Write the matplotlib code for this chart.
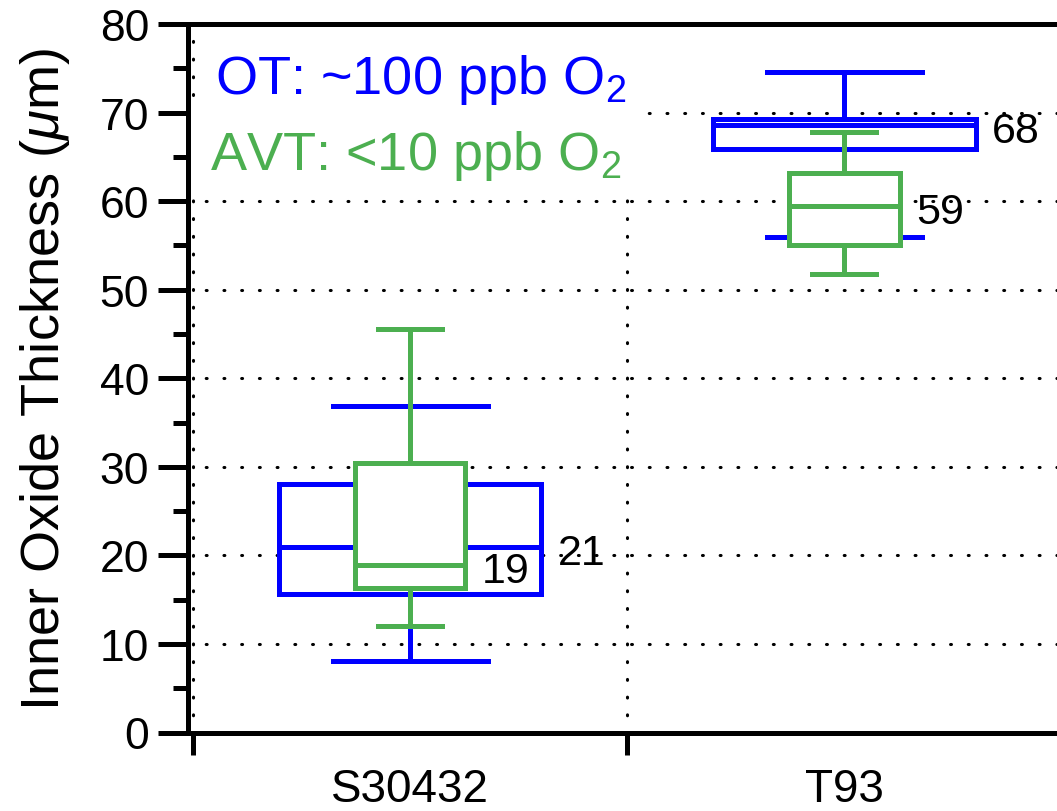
import matplotlib
matplotlib.use("Agg")
import matplotlib.pyplot as plt
from matplotlib.patches import Rectangle

plt.rcParams["font.family"] = ["Liberation Sans", "DejaVu Sans"]
plt.rcParams["mathtext.fontset"] = "custom"
plt.rcParams["mathtext.rm"] = "Liberation Sans"
plt.rcParams["mathtext.it"] = "Liberation Sans:italic"

# data (inner oxide thickness, um)
categories = ["S30432", "T93"]
positions = [0, 1]

ot_whislo = [8.1, 56.0]
ot_q1 = [15.6, 65.9]
ot_med = [20.9, 68.6]
ot_q3 = [28.1, 69.3]
ot_whishi = [36.9, 74.6]
ot_labels = ["21", "68"]

avt_whislo = [12.0, 51.8]
avt_q1 = [16.3, 55.1]
avt_med = [18.9, 59.4]
avt_q3 = [30.4, 63.2]
avt_whishi = [45.6, 67.8]
avt_labels = ["19", "59"]

BLUE = "#0000FF"
GREEN = "#4CAF50"
LW = 3.6


def make_stats(lo, q1, med, q3, hi):
    return [dict(whislo=a, q1=b, med=c, q3=d, whishi=e, fliers=[])
            for a, b, c, d, e in zip(lo, q1, med, q3, hi)]


def draw_boxes(ax, stats, color, width, capwidth, z):
    props = dict(color=color, linewidth=LW)
    ax.bxp(stats, positions=positions, widths=width, capwidths=capwidth,
           patch_artist=True, showfliers=False, manage_ticks=False,
           boxprops=dict(facecolor="white", edgecolor=color, linewidth=LW,
                         joinstyle="miter"),
           whiskerprops=props, capprops=props, medianprops=props, zorder=z)


fig = plt.figure(figsize=(10.57, 8.12), dpi=100)
ax = fig.add_axes([187.5 / 1057, 78.5 / 812, 869.5 / 1057, 708.5 / 812])

ax.set_xlim(-0.5127, 1.49)
ax.set_ylim(0, 80)
ax.set_axisbelow(True)

# grid
ax.set_yticks(range(0, 81, 10))
ax.set_yticks(range(5, 80, 10), minor=True)
ax.set_xticks([-0.5, 0.5])
ax.set_xticklabels(["", ""])
ax.set_xticks(positions, minor=True)
ax.set_xticklabels(categories, minor=True)
ax.grid(True, which="major", color="black", linestyle=(0, (0.3, 5.5)),
        linewidth=2.2, dash_capstyle="round", zorder=0.5)

# white backing behind the legend text
ax.add_patch(Rectangle((0.0006, 0.756), 0.5234, 0.131, transform=ax.transAxes,
                       facecolor="white", edgecolor="none", zorder=1))
ax.add_patch(Rectangle((0.020, 0.887), 0.504, 0.113, transform=ax.transAxes,
                       facecolor="white", edgecolor="none", zorder=1))

draw_boxes(ax, make_stats(ot_whislo, ot_q1, ot_med, ot_q3, ot_whishi),
           BLUE, 0.605, 0.357, 2)
draw_boxes(ax, make_stats(avt_whislo, avt_q1, avt_med, avt_q3, avt_whishi),
           GREEN, 0.255, 0.148, 3)

# median labels
for pos, med, lab in zip(positions, ot_med, ot_labels):
    ax.annotate(lab, (pos + 0.605 / 2, med), xytext=(12, -4),
                textcoords="offset points", ha="left", va="center",
                fontsize=31, zorder=5)
for pos, med, lab in zip(positions, avt_med, avt_labels):
    ax.annotate(lab, (pos + 0.255 / 2, med), xytext=(12, -4),
                textcoords="offset points", ha="left", va="center",
                fontsize=31, zorder=5)

ax.text(0.032, 0.9026, "OT: ~100 ppb O$_2$", transform=ax.transAxes,
        color=BLUE, fontsize=39, va="baseline", ha="left", zorder=5)
ax.text(0.026, 0.795, "AVT: <10 ppb O$_2$", transform=ax.transAxes,
        color=GREEN, fontsize=39, va="baseline", ha="left", zorder=5)

# axes styling
for side in ["left", "bottom", "top"]:
    ax.spines[side].set_linewidth(LW)
ax.spines["right"].set_visible(False)

ax.tick_params(axis="y", which="major", direction="out", length=21.6,
               width=LW, labelsize=32, pad=6)
ax.tick_params(axis="y", which="minor", direction="out", length=10.8,
               width=LW)
ax.tick_params(axis="x", which="major", direction="out", length=16,
               width=LW)
ax.tick_params(axis="x", which="minor", length=0, labelsize=33, pad=25)

ax.set_ylabel("Inner Oxide Thickness ($\\mu$m)", fontsize=39, labelpad=20)

fig.savefig("out.png", dpi=100)
